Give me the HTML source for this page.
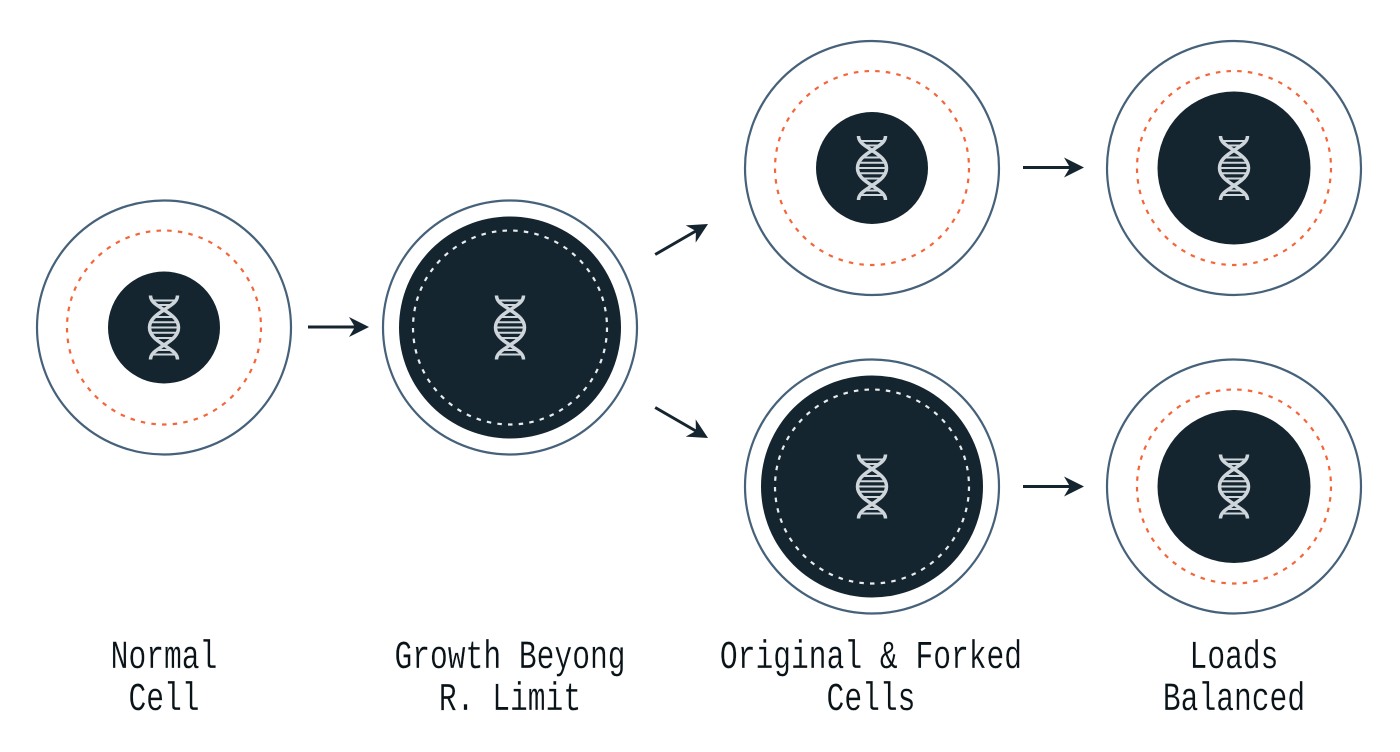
<!DOCTYPE html>
<html><head><meta charset="utf-8"><style>
html,body{margin:0;padding:0;background:#fff}
svg{display:block}
text{font-family:"Liberation Mono",monospace;font-size:39.5px;fill:#0a1418;stroke:#fff;stroke-width:.2px;text-anchor:middle}
</style></head><body>
<svg width="1400" height="752" viewBox="0 0 1400 752" xmlns="http://www.w3.org/2000/svg">
<defs>
<g id="dna" fill="none" stroke="#cfd6db">
<g stroke-width="3.500">
<path d="M-13.500,-32 C-13.500,-25 -6,-22 0,-17.500 C9,-12 14.500,-7 14.500,0 C14.500,7 9,12 0,17.500 C-6,22 -13.500,25 -13.500,32"/>
<path d="M13.500,-32 C13.500,-25 6,-22 0,-17.500 C-9,-12 -14.500,-7 -14.500,0 C-14.500,7 -9,12 0,17.500 C6,22 13.500,25 13.500,32"/>
</g>
<g stroke-width="2">
<path d="M-12,-27H12M-7,-22.500H7M-9,-10.500H9M-13,-5.200H13M-14,0H14M-13,5.200H13M-9,10.500H9M-7,22.500H7M-12,27H12"/>
</g>
</g>
<g id="head"><path d="M0,0 L-20,-10 L-14,0 L-20,10 Z" fill="#14252f"/><path d="M-61,0 H-12" stroke="#14252f" stroke-width="3"/></g>
</defs>

<g fill="#fff" stroke="#46617a" stroke-width="2.200">
<circle cx="164" cy="327.500" r="127"/>
<circle cx="510" cy="327.500" r="127"/>
<circle cx="872" cy="168" r="127"/>
<circle cx="1234" cy="168" r="127"/>
<circle cx="872" cy="486.500" r="127"/>
<circle cx="1234" cy="486.500" r="127"/>
</g>

<g fill="#14252f">
<circle cx="164" cy="327.500" r="56"/>
<circle cx="510" cy="327.500" r="111"/>
<circle cx="872" cy="168" r="56"/>
<circle cx="1234" cy="168" r="76.500"/>
<circle cx="872" cy="486.500" r="111"/>
<circle cx="1234" cy="486.500" r="76.500"/>
</g>

<g fill="none" stroke="#f4663a" stroke-width="2.200" stroke-dasharray="4.500 6.200">
<circle cx="164" cy="327.500" r="97"/>
<circle cx="872" cy="168" r="97"/>
<circle cx="1234" cy="168" r="97"/>
<circle cx="1234" cy="486.500" r="97"/>
</g>
<g fill="none" stroke="#e8ecee" stroke-width="2.200" stroke-dasharray="4.500 6.200">
<circle cx="510" cy="327.500" r="97"/>
<circle cx="872" cy="486.500" r="97"/>
</g>

<use href="#dna" x="164" y="327.500"/>
<use href="#dna" x="510" y="327.500"/>
<use href="#dna" x="872" y="168"/>
<use href="#dna" x="1234" y="168"/>
<use href="#dna" x="872" y="486.500"/>
<use href="#dna" x="1234" y="486.500"/>

<use href="#head" transform="translate(369,327)"/>
<use href="#head" transform="translate(1084,167.500)"/>
<use href="#head" transform="translate(1084,486.500)"/>
<use href="#head" transform="translate(708,224) rotate(-30)"/>
<use href="#head" transform="translate(708,438) rotate(30)"/>

<text transform="translate(164,668) scale(0.75,1)">Normal</text>
<text transform="translate(164,710) scale(0.75,1)">Cell</text>
<text transform="translate(510,668) scale(0.75,1)">Growth Beyong</text>
<text transform="translate(510,710) scale(0.75,1)">R. Limit</text>
<text transform="translate(871,668) scale(0.75,1)">Original &amp; Forked</text>
<text transform="translate(871,710) scale(0.75,1)">Cells</text>
<text transform="translate(1234,668) scale(0.75,1)">Loads</text>
<text transform="translate(1234,710) scale(0.75,1)">Balanced</text>
</svg>
</body></html>
